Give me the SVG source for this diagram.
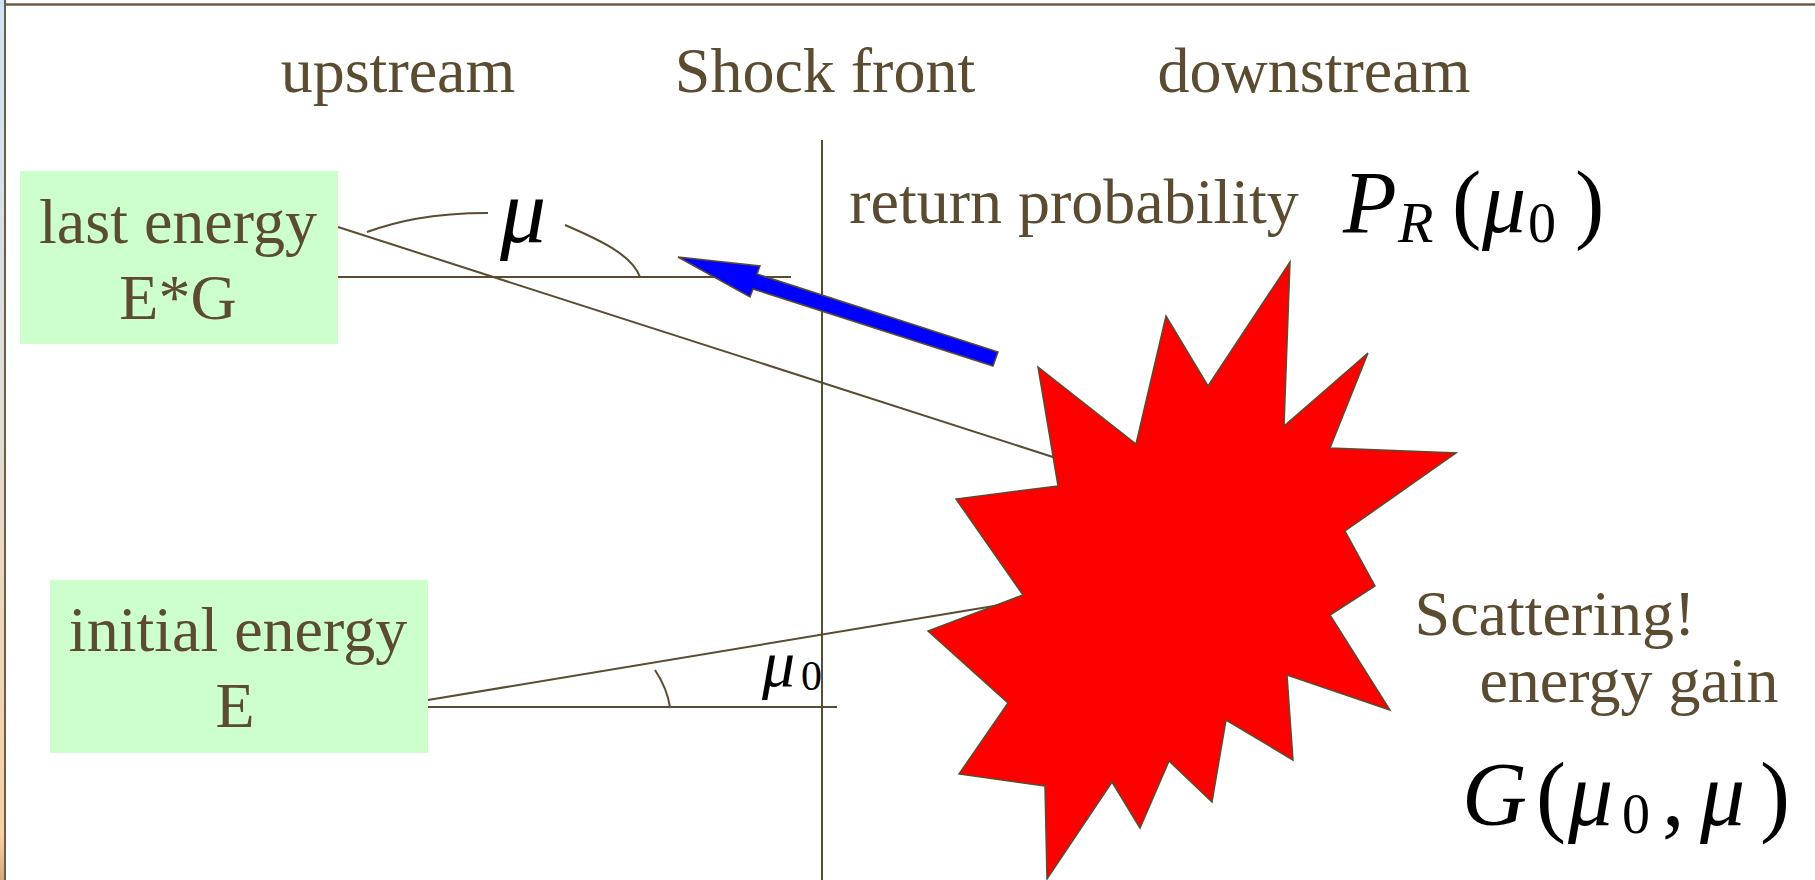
<svg xmlns="http://www.w3.org/2000/svg" width="1815" height="880" viewBox="0 0 1815 880">
<defs>
<linearGradient id="edge" x1="0" y1="0" x2="0" y2="1">
<stop offset="0" stop-color="#cfe3f8"/>
<stop offset="0.5" stop-color="#e3dcd2"/>
<stop offset="0.95" stop-color="#f8cfa4"/>
<stop offset="1" stop-color="#d5a87f"/>
</linearGradient>
<style>
.t{font-family:'Liberation Serif','Times New Roman',Times,'DejaVu Serif',serif;font-size:64px;fill:#5b4b30;text-anchor:middle}
.m{font-family:'Liberation Serif','Times New Roman',Times,'DejaVu Serif',serif;fill:#000;font-style:italic}
.u{font-style:normal}
.ln{stroke:#5b4b30;stroke-width:2;fill:none}
.box{fill:#ccffcc}
</style>
</defs>
<rect x="0" y="0" width="1815" height="880" fill="#ffffff"/>
<rect x="0" y="0" width="4" height="880" fill="url(#edge)"/>
<line x1="5" y1="0" x2="5" y2="880" stroke="#6b5d45" stroke-width="2"/>
<line x1="4" y1="4.5" x2="1815" y2="4.5" stroke="#6b5d45" stroke-width="2.5"/>

<g id="headers">
<text class="t" x="398" y="92">upstream</text>
<text class="t" x="825" y="92">Shock front</text>
<text class="t" x="1314" y="92">downstream</text>
</g>

<g id="last-energy">
<rect class="box" x="20" y="171" width="318" height="173"/>
<text class="t" x="178" y="243">last energy</text>
<text class="t" x="178" y="319">E*G</text>
</g>

<g id="initial-energy">
<rect class="box" x="50" y="580" width="378" height="173"/>
<text class="t" x="238" y="651">initial energy</text>
<text class="t" x="235" y="727">E</text>
</g>

<g id="connectors">
<line class="ln" x1="822" y1="140" x2="822" y2="880"/>
<line class="ln" x1="338" y1="277" x2="791" y2="277"/>
<line class="ln" x1="338" y1="227" x2="1056" y2="458"/>
<line class="ln" x1="428" y1="707" x2="837" y2="707"/>
<line class="ln" x1="428" y1="700" x2="1000" y2="605"/>
<path class="ln" d="M367 232 C395 222 430 213 488 213"/>
<path class="ln" d="M565 225 C600 240 632 255 640 277"/>
<path class="ln" d="M655 670 Q667 688 670 707"/>
<polygon id="return-arrow" points="678,257 760,266 757,274 998,352 993,366 753,289 750,297" fill="#0000ff" stroke="#5b4b30" stroke-width="1.5" stroke-linejoin="miter"/>
</g>

<g id="scattering">
<polygon points="1290,262 1284,426 1368,353 1330,448 1456,453 1345,531 1375,586 1330,615 1390,710 1287,675 1293,760 1226,720 1212,802 1169,761 1140,828 1112,782 1047,879 1045,786 959,774 1008,703 928,631 1023,595 956,499 1058,486 1038,367 1136,444 1166,316 1208,386" fill="#ff0000" stroke="#5b4b30" stroke-width="1.5" stroke-linejoin="miter"/>
</g>

<g id="mu-labels">
<text class="m" x="500" y="242" font-size="92">μ</text>
<rect x="760" y="646" width="60" height="51" fill="#ffffff"/>
<rect x="824" y="646" width="12" height="51" fill="#ffffff"/>
<text class="m" x="762" y="686" font-size="66">μ<tspan class="u" x="801" y="690" font-size="42">0</tspan></text>
</g>

<g id="return-probability">
<text class="t" x="1074" y="223">return probability</text>
<text class="m" font-size="88"><tspan x="1343" y="232">P</tspan><tspan x="1398" y="242" font-size="58">R</tspan><tspan class="u" x="1452" y="232">(</tspan><tspan x="1482" y="232">μ</tspan><tspan class="u" x="1528" y="242" font-size="56">0</tspan><tspan class="u" x="1575" y="232">)</tspan></text>
</g>

<g id="energy-gain">
<text class="t" x="1555" y="635">Scattering!</text>
<text class="t" x="1629" y="702">energy gain</text>
<text class="m" font-size="90"><tspan x="1462" y="825">G</tspan><tspan class="u" x="1536" y="825">(</tspan><tspan x="1568" y="825">μ</tspan><tspan class="u" x="1622" y="833" font-size="56">0</tspan><tspan class="u" x="1662" y="825">,</tspan><tspan x="1700" y="825">μ</tspan><tspan class="u" x="1760" y="825">)</tspan></text>
</g>
</svg>
